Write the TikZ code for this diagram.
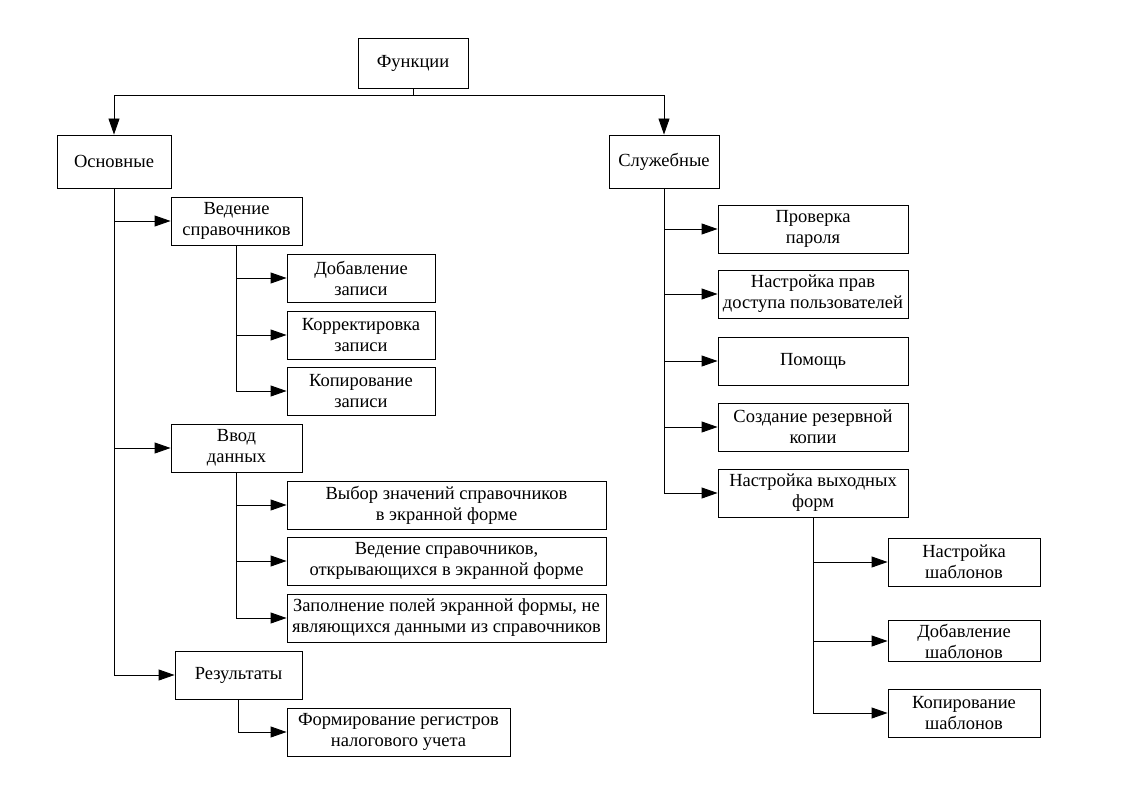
\documentclass[tikz,border=0pt]{standalone}
\usepackage{fontspec}
\setmainfont{Liberation Serif}
\newfontfamily\tnr{Liberation Serif}
\usetikzlibrary{arrows.meta}
\begin{document}
\begin{tikzpicture}[x=1pt,y=-1pt,
  box/.style={draw=black,line width=0.9pt,inner sep=0pt,align=center,font=\tnr\fontsize{18.5}{21}\selectfont},
  arr/.style={draw=black,line width=0.9pt,-{Triangle[length=16pt,width=11pt]}},
  ln/.style={draw=black,line width=0.9pt}]
\useasboundingbox (0,0) rectangle (1123,794);
\fill[white] (0,0) rectangle (1123,794);
% top
\node[box,minimum width=110pt,minimum height=50pt] (fun) at (413,63) {Функции};
\node[box,minimum width=114pt,minimum height=53pt] (osn) at (114,161.5) {Основные};
\node[box,minimum width=110pt,minimum height=53pt] (slu) at (664,161.5) {Служебные};
% left
\node[box,minimum width=131pt,minimum height=48pt] (ved) at (236.5,221) {Ведение\\справочников};
\node[box,minimum width=148pt,minimum height=48pt] (dob) at (361,278) {Добавление\\записи};
\node[box,minimum width=148pt,minimum height=48pt] (kor) at (361,335) {Корректировка\\записи};
\node[box,minimum width=148pt,minimum height=48pt] (kop) at (361,391) {Копирование\\записи};
\node[box,minimum width=131pt,minimum height=48pt] (vvod) at (236.5,448) {Ввод\\данных};
\node[box,minimum width=319pt,minimum height=48pt] (vyb) at (446.5,505) {Выбор значений справочников\\в экранной форме};
\node[box,minimum width=319pt,minimum height=48pt] (vedo) at (446.5,561) {Ведение справочников,\\открывающихся в экранной форме};
\node[box,minimum width=319pt,minimum height=48pt] (zap) at (446.5,618) {Заполнение полей экранной формы, не\\являющихся данными из справочников};
\node[box,minimum width=127pt,minimum height=48pt] (rez) at (238.5,675) {Результаты};
\node[box,minimum width=223pt,minimum height=48pt] (form) at (398.5,732) {Формирование регистров\\налогового учета};
% right
\node[box,minimum width=190pt,minimum height=48pt] (pro) at (813,229) {Проверка\\пароля};
\node[box,minimum width=190pt,minimum height=48pt] (nas) at (813,294) {Настройка прав\\доступа пользователей};
\node[box,minimum width=190pt,minimum height=48pt] (pom) at (813,361) {Помощь};
\node[box,minimum width=190pt,minimum height=48pt] (soz) at (813,427) {Создание резервной\\копии};
\node[box,minimum width=190pt,minimum height=48pt] (vyh) at (813,493) {Настройка выходных\\форм};
\node[box,minimum width=152pt,minimum height=48pt] (nsh) at (964,562) {Настройка\\шаблонов};
\node[box,minimum width=152pt,minimum height=41pt] (dsh) at (964,641) {Добавление\\шаблонов};
\node[box,minimum width=152pt,minimum height=48pt] (ksh) at (964,713) {Копирование\\шаблонов};
% connectors
\coordinate (jn) at (413,95);
\draw[ln] (fun.south) -- (jn);
\draw[arr] (jn) -| (osn.north);
\draw[arr] (jn) -| (slu.north);
\foreach \t in {ved,vvod,rez} \draw[arr] (osn.south) |- (\t.west);
\foreach \t in {dob,kor,kop} \draw[arr] (ved.south) |- (\t.west);
\foreach \t in {vyb,vedo,zap} \draw[arr] (vvod.south) |- (\t.west);
\draw[arr] (rez.south) |- (form.west);
\foreach \t in {pro,nas,pom,soz,vyh} \draw[arr] (slu.south) |- (\t.west);
\foreach \t in {nsh,dsh,ksh} \draw[arr] (vyh.south) |- (\t.west);
\end{tikzpicture}
\end{document}
